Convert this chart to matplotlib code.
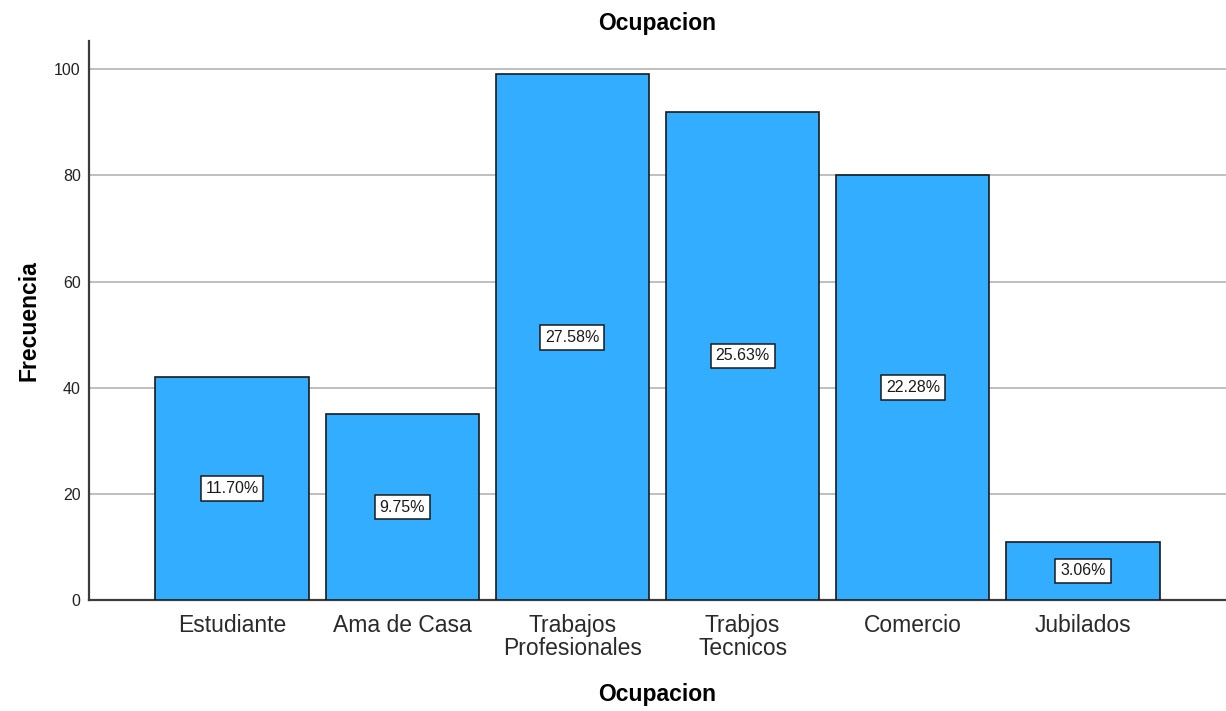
import matplotlib.pyplot as plt

plt.rcParams['font.family'] = ['Liberation Sans', 'DejaVu Sans']

# frequency per occupation
categorias = ['Estudiante', 'Ama de Casa', 'Trabajos\nProfesionales',
              'Trabjos\nTecnicos', 'Comercio', 'Jubilados']
frecuencias = [42, 35, 99, 92, 80, 11]
porcentajes = ['11.70%', '9.75%', '27.58%', '25.63%', '22.28%', '3.06%']

fig = plt.figure(figsize=(12.26, 7.11), dpi=100)
ax = fig.add_axes([0.0726, 0.156, 0.9274, 0.7863])

x = range(len(categorias))
ax.bar(x, frecuencias, width=0.9, color='#33adff', edgecolor='#1a1a1a',
       linewidth=1.2, zorder=3)

for i, (f, p) in enumerate(zip(frecuencias, porcentajes)):
    ax.text(i, f / 2, p, ha='center', va='center', fontsize=11.5, zorder=4,
            color='#1a1a1a',
            bbox=dict(boxstyle='square,pad=0.3', facecolor='white',
                      edgecolor='#1a1a1a', linewidth=1.1))

ax.set_xlim(-0.84, 5.84)
ax.set_ylim(0, 105.3)
ax.set_yticks([0, 20, 40, 60, 80, 100])
ax.yaxis.grid(True, color='#b4b4b4', linewidth=1.2, zorder=0)
ax.set_axisbelow(True)

ax.set_xticks(list(x))
ax.set_xticklabels(categorias, fontsize=16.5, color='#2a2a2a', linespacing=0.98)
ax.tick_params(axis='x', length=0, pad=10)
ax.tick_params(axis='y', length=0, labelsize=11.5, pad=6, labelcolor='#222222')

for s in ['top', 'right']:
    ax.spines[s].set_visible(False)
for s in ['left', 'bottom']:
    ax.spines[s].set_color('#3c3c3c')
    ax.spines[s].set_linewidth(1.6)

ax.set_title('Ocupacion', fontsize=16.5, fontweight='bold', pad=8)
ax.set_xlabel('Ocupacion', fontsize=16.5, fontweight='bold', labelpad=17)
ax.set_ylabel('Frecuencia', fontsize=16.5, fontweight='bold', labelpad=10)

fig.savefig('out.png', dpi=100, facecolor='white')
